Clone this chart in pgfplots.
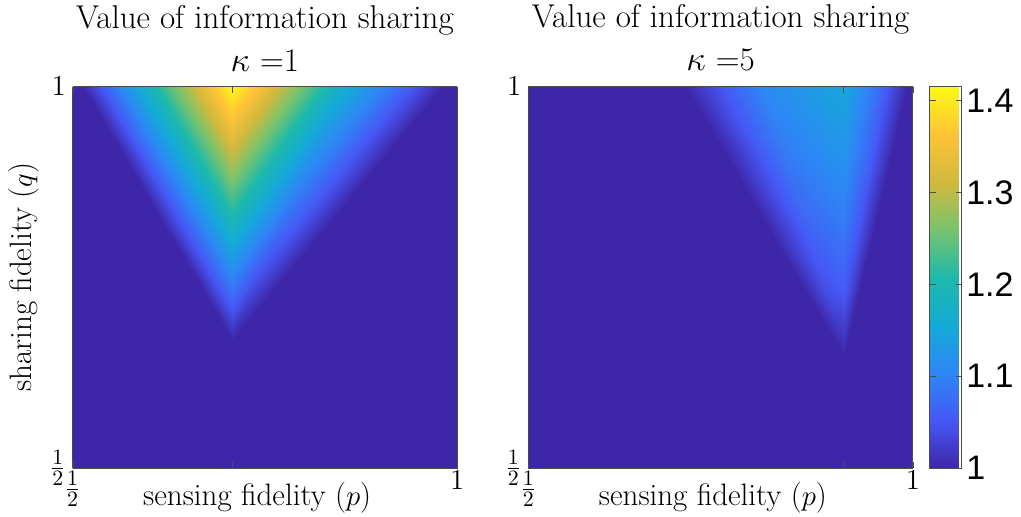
\documentclass[border=0pt]{standalone}
\usepackage{pgfplots}
\pgfplotsset{compat=1.18}
\usepackage{fontspec}
\newfontfamily\cbfont{Liberation Sans}
\pgfplotsset{
  colormap={parulaold}{rgb255=(62,38,168) rgb255=(70,88,245) rgb255=(45,135,245) rgb255=(20,170,215) rgb255=(30,185,170) rgb255=(120,195,110) rgb255=(210,185,60) rgb255=(254,195,55) rgb255=(249,250,20)},
  myax/.style={
    view={0}{90}, scale only axis, width=192.2pt, height=190.7pt,
    xmin=0.5, xmax=1, ymin=0.5, ymax=1,
    point meta min=1, point meta max=1.415,
    colormap name=parulaold,
    axis on top,
    tick align=inside, major tick length=3pt,
    ytick={0.5,1}, yticklabels={$\frac12$,$1$},
    ticklabel style={font=\fontsize{15.5}{15.5}\selectfont},
    xticklabel style={yshift=2pt},
    axis line style={draw=gray!60!black, line width=0.4pt},
    tick style={draw=gray!60!black},
    title style={at={(0.5,1)}, anchor=south, yshift=1.5pt, inner sep=0pt, align=center,
      font=\fontsize{16.5}{21.5}\selectfont},
    xlabel style={at={(0.48,-0.097)}, anchor=base, font=\fontsize{15.5}{18}\selectfont},
    ylabel style={at={(-0.1059,0.5)}, anchor=base, font=\fontsize{15.5}{18}\selectfont},
    xlabel={sensing fidelity ($p$)},
  }
}
\begin{document}
\begin{tikzpicture}
\useasboundingbox (-36.35pt,-24pt) rectangle (474.15pt,234pt);
\begin{axis}[myax,
  title={Value of information sharing\\$\kappa$ =1},
  ylabel={sharing fidelity ($q$)},
  xtick={0.5,0.7071,1}, xticklabels={$\frac12$,,$1$}]
\addplot3[surf, shader=interp, mesh/cols=7] coordinates {
(0.5,0.5,1) (0.7071,0.5,1) (0.7071,0.5,1) (0.7071,0.5,1) (0.7071,0.5,1) (0.7071,0.5,1) (1,0.5,1)
(0.5,0.6667,1) (0.7071,0.6667,1) (0.7071,0.6667,1) (0.7071,0.6667,1) (0.7071,0.6667,1) (0.7071,0.6667,1) (1,0.6667,1)
(0.5,0.75,1) (0.6585,0.75,1) (0.6828,0.75,1.0519) (0.7071,0.75,1.1038) (0.7414,0.75,1.0436) (0.7758,0.75,1) (1,0.75,1)
(0.5,0.8333,1) (0.61,0.8333,1) (0.6585,0.8333,1.1038) (0.7071,0.8333,1.2075) (0.7758,0.8333,1.0872) (0.8445,0.8333,1) (1,0.8333,1)
(0.5,0.9167,1) (0.5615,0.9167,1) (0.6343,0.9167,1.1556) (0.7071,0.9167,1.3113) (0.8101,0.9167,1.1307) (0.9133,0.9167,1) (1,0.9167,1)
(0.5,1,1) (0.513,1,1) (0.61,1,1.2075) (0.7071,1,1.415) (0.8445,1,1.1743) (0.982,1,1) (1,1,1)
};
\end{axis}
\begin{axis}[myax, at={(227.85pt,0pt)},
  title={Value of information sharing\\$\kappa$ =5},
  xtick={0.5,0.91,1}, xticklabels={$\frac12$,,$1$},
  colorbar,
  colorbar style={
    at={(parent axis.north east)}, anchor=north west, xshift=0pt, width=16pt,
    ytick={1,1.1,1.2,1.3,1.4}, yticklabels={1,1.1,1.2,1.3,1.4},
    yticklabel style={font=\cbfont\fontsize{17}{17}\selectfont, inner sep=2pt},
    tick align=inside, major tick length=3pt,
    axis line style={draw=gray!60!black}, tick style={draw=gray!60!black},
  }]
\addplot3[surf, shader=interp, mesh/cols=7] coordinates {
(0.5,0.5,1) (0.91,0.5,1) (0.91,0.5,1) (0.91,0.5,1) (0.91,0.5,1) (0.91,0.5,1) (1,0.5,1)
(0.5,0.646,1) (0.91,0.646,1) (0.91,0.646,1) (0.91,0.646,1) (0.91,0.646,1) (0.91,0.646,1) (1,0.646,1)
(0.5,0.7345,1) (0.8585,0.7345,1) (0.8843,0.7345,1.041) (0.91,0.7345,1.057) (0.9204,0.7345,1.031) (0.9308,0.7345,1) (1,0.7345,1)
(0.5,0.823,1) (0.807,0.823,1) (0.8585,0.823,1.066) (0.91,0.823,1.092) (0.9308,0.823,1.051) (0.9515,0.823,1) (1,0.823,1)
(0.5,0.9115,1) (0.7555,0.9115,1) (0.8328,0.9115,1.089) (0.91,0.9115,1.123) (0.9411,0.9115,1.068) (0.9723,0.9115,1) (1,0.9115,1)
(0.5,1,1) (0.704,1,1) (0.807,1,1.108) (0.91,1,1.15) (0.9515,1,1.0825) (0.993,1,1) (1,1,1)
};
\end{axis}
\end{tikzpicture}
\end{document}
